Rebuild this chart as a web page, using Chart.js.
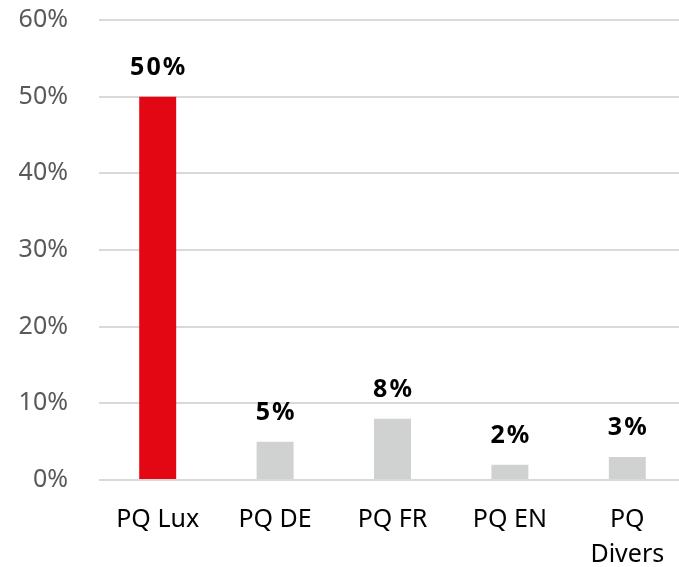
<!DOCTYPE html>
<html><head><meta charset="utf-8">
<script src="https://cdn.jsdelivr.net/npm/chart.js@4"></script>
<style>html,body{margin:0;padding:0;background:#fff;overflow:hidden;width:679px;height:567px}#wrap{width:686px;height:567px}</style>
</head><body><div id="wrap"><canvas id="c" width="686" height="567"></canvas></div>
<script>
const labels = ["PQ Lux", "PQ DE", "PQ FR", "PQ EN", ["PQ", "Divers"]];
const values = [0.50, 0.05, 0.08, 0.02, 0.03];
const barColors = ["#e30613", "#d0d2d1", "#d0d2d1", "#d0d2d1", "#d0d2d1"];
const yTicks = [0, 0.1, 0.2, 0.3, 0.4, 0.5, 0.6];

const FONT = "'Noto Sans', sans-serif";

const valueLabels = {
  id: 'valueLabels',
  afterDatasetsDraw(chart) {
    const ctx = chart.ctx;
    const meta = chart.getDatasetMeta(0);
    ctx.save();
    ctx.font = "bold 25px " + FONT;
    ctx.fillStyle = "#000";
    ctx.textAlign = "center";
    ctx.textBaseline = "middle";
    try { ctx.letterSpacing = "2px"; } catch (e) {}
    meta.data.forEach((bar, i) => {
      ctx.fillText(Math.round(values[i] * 100) + "%", bar.x + 1, bar.y - 29);
    });
    ctx.restore();
  }
};

new Chart(document.getElementById('c'), {
  type: 'bar',
  data: {
    labels: labels,
    datasets: [{
      data: values,
      backgroundColor: barColors,
      borderWidth: 0,
      categoryPercentage: 1,
      barPercentage: 0.315
    }]
  },
  options: {
    responsive: false,
    animation: false,
    devicePixelRatio: 1,
    layout: { padding: { top: 20, right: 0, left: 0, bottom: 0 } },
    plugins: { legend: { display: false }, tooltip: { enabled: false } },
    scales: {
      y: {
        min: 0, max: 0.6,
        afterBuildTicks(scale) { scale.ticks = yTicks.map(v => ({ value: v })); },
        afterFit(scale) { scale.width = 99; scale.paddingTop = 0; scale.paddingBottom = 0; },
        grid: { color: "#d9d9d9", lineWidth: 2, drawTicks: false },
        border: { display: false },
        ticks: {
          padding: 31,
          color: "#595959",
          font: { family: FONT, size: 25 },
          callback: v => Math.round(v * 100) + "%"
        }
      },
      x: {
        afterFit(scale) { scale.height = 87; scale.paddingLeft = 0; scale.paddingRight = 0; },
        grid: { display: false, drawTicks: false },
        border: { display: false },
        ticks: {
          padding: 22,
          color: "#000",
          maxRotation: 0,
          autoSkip: false,
          font: { family: FONT, size: 25, lineHeight: 1.4 }
        }
      }
    }
  },
  plugins: [valueLabels]
});
</script>
</body></html>
